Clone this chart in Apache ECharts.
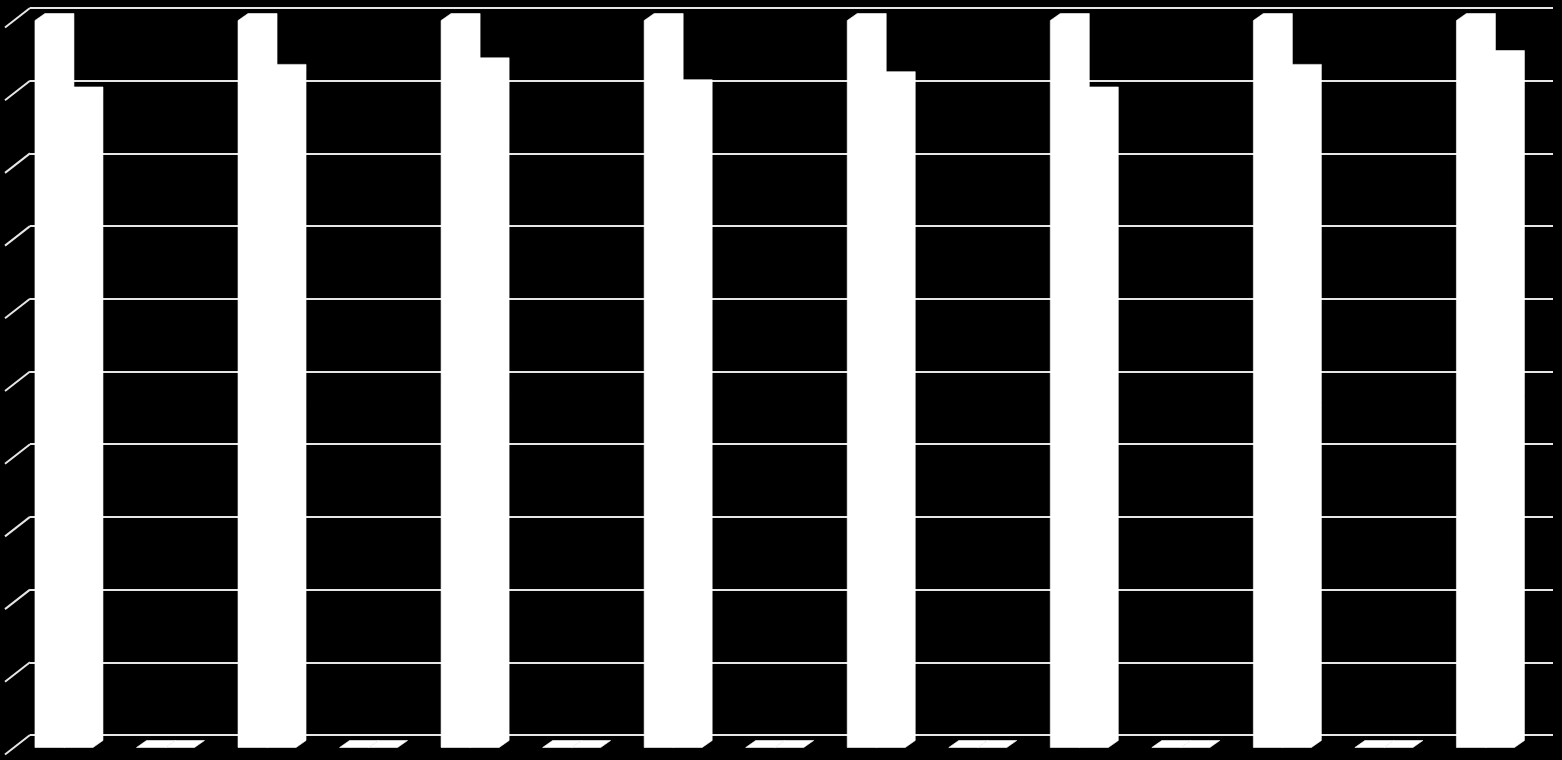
<!DOCTYPE html>
<html>
<head>
<meta charset="utf-8">
<title>3D columns</title>
<script src="https://cdn.jsdelivr.net/npm/echarts@6/dist/echarts.min.js"></script>
<style>
  html, body { margin: 0; padding: 0; background: #000; }
  #chart { width: 1562px; height: 760px; }
</style>
</head>
<body>
<div id="chart"></div>
<script>
// categories (no labels shown in the picture)
const categories = ['1', '2', '3', '4', '5', '6', '7', '8', '9', '10', '11', '12', '13', '14', '15'];
// series values
const seriesA = [1, 0, 1, 0, 1, 0, 1, 0, 1, 0, 1, 0, 1, 0, 1];
const seriesB = [0.899, 0, 0.93, 0, 0.939, 0, 0.909, 0, 0.92, 0, 0.899, 0, 0.93, 0, 0.949];
// value axis ticks (back wall gridlines)
const yTicks = [0, 0.1, 0.2, 0.3, 0.4, 0.5, 0.6, 0.7, 0.8, 0.9, 1];

// fake 3D depth
const WALL_DX = 25, WALL_DY = 19.5;   // side wall / floor depth
const BACK_DX = -6.8, BACK_DY = 5.5;  // bar back face, in front of the wall
const BAR_DX = 10, BAR_DY = 7;        // bar depth

const chart = echarts.init(document.getElementById('chart'));

function barItem(k) {
    return function(params, api) {
        const i = api.value(0), v = api.value(1);
        const base = api.coord([i, 0]);
        const top = api.coord([i, v]);
        const catW = api.size([1, 0])[0];
        const bw = catW / 3.5;
        const x0 = base[0] + BACK_DX - BAR_DX - bw + k * bw;
        const x1 = x0 + bw;
        const yb = base[1] + BACK_DY + BAR_DY;
        const yt = top[1] + BACK_DY + BAR_DY;
        return {
            type: 'polygon',
            shape: {
                points: [
                    [x0, yb], [x0, yt], [x0 + BAR_DX, yt - BAR_DY],
                    [x1 + BAR_DX, yt - BAR_DY], [x1 + BAR_DX, yb - BAR_DY], [x1, yb]
                ]
            },
            style: { fill: '#ffffff', stroke: '#ffffff', lineWidth: 0.6 }
        };
    };
}

// diagonal lines on the left side wall
function wallItem(params, api) {
    const p = api.coord([0, api.value(0)]);
    const x = params.coordSys.x;
    return {
        type: 'line',
        shape: { x1: x - WALL_DX, y1: p[1] + WALL_DY, x2: x, y2: p[1] },
        style: { stroke: '#e6e6e6', lineWidth: 2 }
    };
}

const option = {
    backgroundColor: '#000000',
    animation: false,
    grid: { left: 30, right: 9, top: 8, bottom: 25 },
    xAxis: {
        type: 'category',
        data: categories,
        boundaryGap: true,
        axisLine: { show: false },
        axisTick: { show: false },
        axisLabel: { show: false }
    },
    yAxis: {
        type: 'value',
        min: 0,
        max: 1,
        interval: 0.1,
        axisLine: { show: false },
        axisTick: { show: false },
        axisLabel: { show: false },
        splitLine: { show: true, lineStyle: { color: '#e6e6e6', width: 2 } }
    },
    series: [
        {
            type: 'custom',
            renderItem: wallItem,
            data: yTicks.map(t => [t]),
            encode: { y: 0 },
            silent: true
        },
        {
            name: 'A',
            type: 'custom',
            renderItem: barItem(0),
            data: seriesA.map((v, i) => [i, v]),
            encode: { x: 0, y: 1 }
        },
        {
            name: 'B',
            type: 'custom',
            renderItem: barItem(1),
            data: seriesB.map((v, i) => [i, v]),
            encode: { x: 0, y: 1 }
        }
    ]
};

chart.setOption(option);
</script>
</body>
</html>
